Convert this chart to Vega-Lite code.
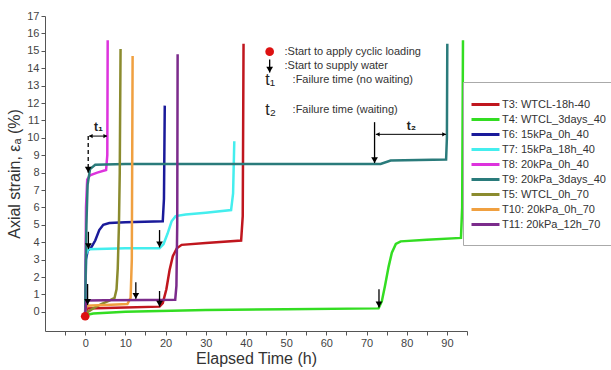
{
  "$schema": "https://vega.github.io/schema/vega-lite/v6.json",
  "width": 422,
  "height": 315,
  "autosize": "none",
  "padding": {"left": 45, "top": 16, "right": 144, "bottom": 39},
  "background": "white",
  "config": {
    "view": {"stroke": null},
    "font": "Liberation Sans",
    "axis": {"grid": false, "domainColor": "#555", "tickColor": "#555", "labelColor": "#444", "titleColor": "#333", "labelFontSize": 11, "titleFontSize": 16, "titleFontWeight": "normal", "tickSize": 4}
  },
  "datasets": {
    "lines": [
      {"s": "T3: WTCL-18h-40", "i": 1, "x": 0, "y": -0.2}, {"s": "T3: WTCL-18h-40", "i": 2, "x": 0.5, "y": 0.2}, {"s": "T3: WTCL-18h-40", "i": 3, "x": 10, "y": 0.25}, {"s": "T3: WTCL-18h-40", "i": 4, "x": 18.5, "y": 0.3}, {"s": "T3: WTCL-18h-40", "i": 5, "x": 19.3, "y": 0.5}, {"s": "T3: WTCL-18h-40", "i": 6, "x": 20.2, "y": 1.3}, {"s": "T3: WTCL-18h-40", "i": 7, "x": 21, "y": 2.4}, {"s": "T3: WTCL-18h-40", "i": 8, "x": 21.8, "y": 3.2}, {"s": "T3: WTCL-18h-40", "i": 9, "x": 22.8, "y": 3.65}, {"s": "T3: WTCL-18h-40", "i": 10, "x": 24, "y": 3.85}, {"s": "T3: WTCL-18h-40", "i": 11, "x": 30, "y": 3.95}, {"s": "T3: WTCL-18h-40", "i": 12, "x": 38.8, "y": 4.1}, {"s": "T3: WTCL-18h-40", "i": 13, "x": 39.2, "y": 5.5}, {"s": "T3: WTCL-18h-40", "i": 14, "x": 39.4, "y": 15.4},
      {"s": "T4: WTCL_3days_40", "i": 1, "x": 0, "y": -0.2}, {"s": "T4: WTCL_3days_40", "i": 2, "x": 2, "y": -0.1}, {"s": "T4: WTCL_3days_40", "i": 3, "x": 10, "y": 0}, {"s": "T4: WTCL_3days_40", "i": 4, "x": 30, "y": 0.1}, {"s": "T4: WTCL_3days_40", "i": 5, "x": 50, "y": 0.15}, {"s": "T4: WTCL_3days_40", "i": 6, "x": 73, "y": 0.2}, {"s": "T4: WTCL_3days_40", "i": 7, "x": 73.8, "y": 0.6}, {"s": "T4: WTCL_3days_40", "i": 8, "x": 74.6, "y": 1.5}, {"s": "T4: WTCL_3days_40", "i": 9, "x": 75.5, "y": 2.6}, {"s": "T4: WTCL_3days_40", "i": 10, "x": 76.3, "y": 3.4}, {"s": "T4: WTCL_3days_40", "i": 11, "x": 77.3, "y": 3.9}, {"s": "T4: WTCL_3days_40", "i": 12, "x": 78.5, "y": 4.05}, {"s": "T4: WTCL_3days_40", "i": 13, "x": 85, "y": 4.15}, {"s": "T4: WTCL_3days_40", "i": 14, "x": 93.5, "y": 4.25}, {"s": "T4: WTCL_3days_40", "i": 15, "x": 93.8, "y": 6}, {"s": "T4: WTCL_3days_40", "i": 16, "x": 94, "y": 15.6},
      {"s": "T6: 15kPa_0h_40", "i": 1, "x": 0, "y": -0.1}, {"s": "T6: 15kPa_0h_40", "i": 2, "x": 0.2, "y": 3}, {"s": "T6: 15kPa_0h_40", "i": 3, "x": 0.6, "y": 3.5}, {"s": "T6: 15kPa_0h_40", "i": 4, "x": 1.5, "y": 3.7}, {"s": "T6: 15kPa_0h_40", "i": 5, "x": 2.5, "y": 4.1}, {"s": "T6: 15kPa_0h_40", "i": 6, "x": 3.5, "y": 4.7}, {"s": "T6: 15kPa_0h_40", "i": 7, "x": 4.5, "y": 5.0}, {"s": "T6: 15kPa_0h_40", "i": 8, "x": 6, "y": 5.1}, {"s": "T6: 15kPa_0h_40", "i": 9, "x": 10, "y": 5.15}, {"s": "T6: 15kPa_0h_40", "i": 10, "x": 19.3, "y": 5.2}, {"s": "T6: 15kPa_0h_40", "i": 11, "x": 19.6, "y": 6.5}, {"s": "T6: 15kPa_0h_40", "i": 12, "x": 19.8, "y": 11.85},
      {"s": "T7: 15kPa_18h_40", "i": 1, "x": 0, "y": -0.1}, {"s": "T7: 15kPa_18h_40", "i": 2, "x": 0.2, "y": 3.3}, {"s": "T7: 15kPa_18h_40", "i": 3, "x": 0.8, "y": 3.6}, {"s": "T7: 15kPa_18h_40", "i": 4, "x": 10, "y": 3.65}, {"s": "T7: 15kPa_18h_40", "i": 5, "x": 18.5, "y": 3.65}, {"s": "T7: 15kPa_18h_40", "i": 6, "x": 19.5, "y": 3.9}, {"s": "T7: 15kPa_18h_40", "i": 7, "x": 20.5, "y": 4.5}, {"s": "T7: 15kPa_18h_40", "i": 8, "x": 21.5, "y": 5.2}, {"s": "T7: 15kPa_18h_40", "i": 9, "x": 22.5, "y": 5.5}, {"s": "T7: 15kPa_18h_40", "i": 10, "x": 25, "y": 5.6}, {"s": "T7: 15kPa_18h_40", "i": 11, "x": 30, "y": 5.7}, {"s": "T7: 15kPa_18h_40", "i": 12, "x": 36.3, "y": 5.85}, {"s": "T7: 15kPa_18h_40", "i": 13, "x": 36.8, "y": 6.8}, {"s": "T7: 15kPa_18h_40", "i": 14, "x": 37.1, "y": 9.8},
      {"s": "T8: 20kPa_0h_40", "i": 1, "x": 0, "y": -0.1}, {"s": "T8: 20kPa_0h_40", "i": 2, "x": 0.2, "y": 6}, {"s": "T8: 20kPa_0h_40", "i": 3, "x": 0.5, "y": 7.6}, {"s": "T8: 20kPa_0h_40", "i": 4, "x": 1.2, "y": 7.85}, {"s": "T8: 20kPa_0h_40", "i": 5, "x": 3, "y": 8.0}, {"s": "T8: 20kPa_0h_40", "i": 6, "x": 5.2, "y": 8.15}, {"s": "T8: 20kPa_0h_40", "i": 7, "x": 5.5, "y": 9}, {"s": "T8: 20kPa_0h_40", "i": 8, "x": 5.6, "y": 15.6},
      {"s": "T9: 20kPa_3days_40", "i": 1, "x": 0, "y": -0.2}, {"s": "T9: 20kPa_3days_40", "i": 2, "x": 0.1, "y": 2}, {"s": "T9: 20kPa_3days_40", "i": 3, "x": 0.3, "y": 5}, {"s": "T9: 20kPa_3days_40", "i": 4, "x": 0.6, "y": 7.3}, {"s": "T9: 20kPa_3days_40", "i": 5, "x": 1.2, "y": 8.2}, {"s": "T9: 20kPa_3days_40", "i": 6, "x": 2.5, "y": 8.45}, {"s": "T9: 20kPa_3days_40", "i": 7, "x": 10, "y": 8.5}, {"s": "T9: 20kPa_3days_40", "i": 8, "x": 72, "y": 8.5}, {"s": "T9: 20kPa_3days_40", "i": 9, "x": 73.5, "y": 8.5}, {"s": "T9: 20kPa_3days_40", "i": 10, "x": 76, "y": 8.7}, {"s": "T9: 20kPa_3days_40", "i": 11, "x": 89.8, "y": 8.75}, {"s": "T9: 20kPa_3days_40", "i": 12, "x": 90, "y": 10}, {"s": "T9: 20kPa_3days_40", "i": 13, "x": 90.1, "y": 15.4},
      {"s": "T5: WTCL_0h_70", "i": 1, "x": 0, "y": -0.1}, {"s": "T5: WTCL_0h_70", "i": 2, "x": 2, "y": 0.2}, {"s": "T5: WTCL_0h_70", "i": 3, "x": 4, "y": 0.45}, {"s": "T5: WTCL_0h_70", "i": 4, "x": 6, "y": 0.65}, {"s": "T5: WTCL_0h_70", "i": 5, "x": 7.3, "y": 0.8}, {"s": "T5: WTCL_0h_70", "i": 6, "x": 7.8, "y": 1.3}, {"s": "T5: WTCL_0h_70", "i": 7, "x": 8.1, "y": 2.5}, {"s": "T5: WTCL_0h_70", "i": 8, "x": 8.4, "y": 5}, {"s": "T5: WTCL_0h_70", "i": 9, "x": 8.6, "y": 8}, {"s": "T5: WTCL_0h_70", "i": 10, "x": 8.8, "y": 15.1},
      {"s": "T10: 20kPa_0h_70", "i": 1, "x": 0, "y": -0.1}, {"s": "T10: 20kPa_0h_70", "i": 2, "x": 0.3, "y": 0.35}, {"s": "T10: 20kPa_0h_70", "i": 3, "x": 5, "y": 0.4}, {"s": "T10: 20kPa_0h_70", "i": 4, "x": 10.5, "y": 0.45}, {"s": "T10: 20kPa_0h_70", "i": 5, "x": 11.3, "y": 0.8}, {"s": "T10: 20kPa_0h_70", "i": 6, "x": 11.6, "y": 3}, {"s": "T10: 20kPa_0h_70", "i": 7, "x": 11.8, "y": 14.7},
      {"s": "T11: 20kPa_12h_70", "i": 1, "x": 0, "y": -0.1}, {"s": "T11: 20kPa_12h_70", "i": 2, "x": 0.3, "y": 0.65}, {"s": "T11: 20kPa_12h_70", "i": 3, "x": 5, "y": 0.67}, {"s": "T11: 20kPa_12h_70", "i": 4, "x": 15, "y": 0.68}, {"s": "T11: 20kPa_12h_70", "i": 5, "x": 22.4, "y": 0.7}, {"s": "T11: 20kPa_12h_70", "i": 6, "x": 22.7, "y": 1.5}, {"s": "T11: 20kPa_12h_70", "i": 7, "x": 22.9, "y": 5}, {"s": "T11: 20kPa_12h_70", "i": 8, "x": 23, "y": 14.8}
    ],
    "arrows": [
      {"x": 0.6, "top": 1.6, "bot": 0.4},
      {"x": 0.8, "top": 4.6, "bot": 3.6},
      {"x": 12.6, "top": 1.7, "bot": 0.75},
      {"x": 18.5, "top": 4.7, "bot": 3.7},
      {"x": 18.5, "top": 1.2, "bot": 0.3},
      {"x": 72, "top": 10.9, "bot": 8.55},
      {"x": 73.1, "top": 1.3, "bot": 0.25},
      {"x": 45.9, "top": 14.5, "bot": 13.75}
    ],
    "dashed": [{"x": 0.75, "top": 10.1, "bot": 8.0}],
    "dbl": [
      {"x": 1.0, "x2": 5.4, "y": 10.1},
      {"x": 72.3, "x2": 89.8, "y": 10.2}
    ],
    "dblheads": [
      {"x": 1.4, "y": 10.1, "shape": "triangle-left"},
      {"x": 5.0, "y": 10.1, "shape": "triangle-right"},
      {"x": 72.8, "y": 10.2, "shape": "triangle-left"},
      {"x": 89.3, "y": 10.2, "shape": "triangle-right"}
    ],
    "dots": [{"x": 0, "y": -0.25}, {"x": 45.9, "y": 14.95}],
    "notes": [
      {"x": 49.6, "y": 14.95, "t": ":Start to apply cyclic loading"},
      {"x": 49.6, "y": 14.15, "t": ":Start to supply water"},
      {"x": 51.6, "y": 13.3, "t": ":Failure time (no waiting)"},
      {"x": 51.6, "y": 11.6, "t": ":Failure time (waiting)"}
    ],
    "tbig": [
      {"x": 44.8, "y": 13.3, "t": "t₁"},
      {"x": 44.8, "y": 11.6, "t": "t₂"}
    ],
    "tsmall": [
      {"x": 2.2, "y": 10.6, "t": "t₁"},
      {"x": 80.0, "y": 10.7, "t": "t₂"}
    ]
  },
  "layer": [
    {
      "data": {"name": "lines"},
      "mark": {"type": "line", "strokeWidth": 2.5, "interpolate": "linear"},
      "encoding": {
        "x": {"field": "x", "type": "quantitative", "scale": {"domain": [-10, 95], "nice": false, "zero": false},
          "axis": {"title": "Elapsed Time (h)", "format": "d", "labelOverlap": false, "tickCount": 50, "values": [-5, 0, 5, 10, 15, 20, 25, 30, 35, 40, 45, 50, 55, 60, 65, 70, 75, 80, 85, 90, 95], "labelExpr": "datum.value >= 0 && datum.value % 10 == 0 ? datum.label : ''", "titlePadding": 2}},
        "y": {"field": "y", "type": "quantitative", "scale": {"domain": [-1.1, 17], "nice": false, "zero": false},
          "axis": {"title": "Axial strain, εₐ (%)", "format": "d", "labelOverlap": false, "tickCount": 50, "values": [0, 1, 2, 3, 4, 5, 6, 7, 8, 9, 10, 11, 12, 13, 14, 15, 16, 17], "titlePadding": 4}},
        "color": {"field": "s", "type": "nominal",
          "scale": {"domain": ["T3: WTCL-18h-40", "T4: WTCL_3days_40", "T6: 15kPa_0h_40", "T7: 15kPa_18h_40", "T8: 20kPa_0h_40", "T9: 20kPa_3days_40", "T5: WTCL_0h_70", "T10: 20kPa_0h_70", "T11: 20kPa_12h_70"],
            "range": ["#c0161e", "#33dd22", "#1a1a9a", "#44eeee", "#dd33dd", "#2a7b7b", "#8b8b2e", "#f0a040", "#7b2b8b"]},
          "legend": {"title": null, "orient": "none", "legendX": 418, "legendY": 66, "padding": 14, "fillColor": "white", "strokeColor": "#aaa", "symbolType": "M-2,0H2", "symbolStrokeWidth": 3, "symbolSize": 196, "labelFontSize": 11, "labelColor": "#333", "labelOffset": 8, "rowPadding": -1}},
        "order": {"field": "i", "type": "quantitative"}
      }
    },
    {
      "data": {"name": "arrows"},
      "mark": {"type": "rule", "color": "black", "strokeWidth": 1.3},
      "encoding": {"x": {"field": "x", "type": "quantitative"}, "y": {"field": "top", "type": "quantitative"}, "y2": {"field": "bot"}}
    },
    {
      "data": {"name": "arrows"},
      "mark": {"type": "point", "shape": "triangle-down", "filled": true, "color": "black", "size": 45, "opacity": 1, "yOffset": -3},
      "encoding": {"x": {"field": "x", "type": "quantitative"}, "y": {"field": "bot", "type": "quantitative"}}
    },
    {
      "data": {"name": "dashed"},
      "mark": {"type": "rule", "color": "black", "strokeWidth": 1.3, "strokeDash": [4, 3]},
      "encoding": {"x": {"field": "x", "type": "quantitative"}, "y": {"field": "top", "type": "quantitative"}, "y2": {"field": "bot"}}
    },
    {
      "data": {"name": "dashed"},
      "mark": {"type": "point", "shape": "triangle-down", "filled": true, "color": "black", "size": 45, "opacity": 1, "yOffset": -3},
      "encoding": {"x": {"field": "x", "type": "quantitative"}, "y": {"field": "bot", "type": "quantitative"}}
    },
    {
      "data": {"name": "dbl"},
      "mark": {"type": "rule", "color": "black", "strokeWidth": 1},
      "encoding": {"x": {"field": "x", "type": "quantitative"}, "x2": {"field": "x2"}, "y": {"field": "y", "type": "quantitative"}}
    },
    {
      "data": {"name": "dblheads"},
      "mark": {"type": "point", "filled": true, "color": "black", "size": 18, "opacity": 1},
      "encoding": {"x": {"field": "x", "type": "quantitative"}, "y": {"field": "y", "type": "quantitative"}, "shape": {"field": "shape", "type": "nominal", "scale": null}}
    },
    {
      "data": {"name": "dots"},
      "mark": {"type": "point", "shape": "circle", "filled": true, "color": "#dd1111", "size": 75, "opacity": 1},
      "encoding": {"x": {"field": "x", "type": "quantitative"}, "y": {"field": "y", "type": "quantitative"}}
    },
    {
      "data": {"name": "notes"},
      "mark": {"type": "text", "align": "left", "baseline": "middle", "fontSize": 11, "color": "#333"},
      "encoding": {"x": {"field": "x", "type": "quantitative"}, "y": {"field": "y", "type": "quantitative"}, "text": {"field": "t"}}
    },
    {
      "data": {"name": "tbig"},
      "mark": {"type": "text", "align": "left", "baseline": "middle", "fontSize": 16, "color": "#222"},
      "encoding": {"x": {"field": "x", "type": "quantitative"}, "y": {"field": "y", "type": "quantitative"}, "text": {"field": "t"}}
    },
    {
      "data": {"name": "tsmall"},
      "mark": {"type": "text", "align": "left", "baseline": "middle", "fontSize": 12, "fontWeight": "bold", "color": "#222"},
      "encoding": {"x": {"field": "x", "type": "quantitative"}, "y": {"field": "y", "type": "quantitative"}, "text": {"field": "t"}}
    }
  ]
}
